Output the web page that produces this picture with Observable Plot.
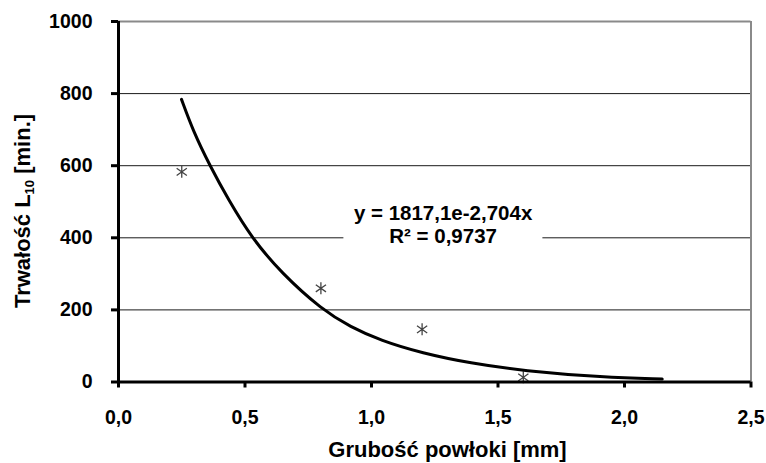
<!DOCTYPE html>
<html><head><meta charset="utf-8">
<script src="https://cdn.jsdelivr.net/npm/d3@7"></script>
<script src="https://cdn.jsdelivr.net/npm/@observablehq/plot@0.6"></script>
<style>body{margin:0;background:#fff} svg{display:block}</style>
</head><body><div id="chart"></div>
<script>
// measured points (asterisks)
const thickness = [0.25, 0.8, 1.2, 1.6];
const durability = [583, 260, 146, 13];
// trend line
const trendX = [0.249, 0.294, 0.361, 0.435, 0.526, 0.644, 0.805, 0.917, 1.036, 1.2, 1.391, 1.6, 1.917, 2.149];
const trendY = [784, 698, 600, 505, 400, 302, 200, 153, 115, 80, 52, 31, 13, 8];
// axes
const xTicks = [0, 0.5, 1, 1.5, 2, 2.5];
const xTickLabels = ["0,0", "0,5", "1,0", "1,5", "2,0", "2,5"];
const yTicks = [0, 200, 400, 600, 800, 1000];
const yTickLabels = ["0", "200", "400", "600", "800", "1000"];
const gridY = [200, 400, 600, 800];
const equationLines = ["y = 1817,1e-2,704x", "R² = 0,9737"];
const equationX = 1.283;
const equationY = 438;
const xTitle = "Grubość powłoki [mm]";
const yTitleParts = ["Trwałość L", "10", " [min.]"];

const font = "'Liberation Sans', Arial, sans-serif";
const points = thickness.map((x, i) => ({x, y: durability[i]}));
const trend = trendX.map((x, i) => ({x, y: trendY[i]}));
const xLab = new Map(xTicks.map((t, i) => [t, xTickLabels[i]]));
const yLab = new Map(yTicks.map((t, i) => [t, yTickLabels[i]]));

const asterisk = {
  draw(context, size) {
    const r = Math.sqrt(size / Math.PI);
    context.moveTo(0, -r); context.lineTo(0, r);
    context.moveTo(-r * 0.85, -r * 0.6); context.lineTo(r * 0.85, r * 0.6);
    context.moveTo(-r * 0.85, r * 0.6); context.lineTo(r * 0.85, -r * 0.6);
  }
};

const plot = Plot.plot({
  width: 766, height: 463,
  marginLeft: 118, marginRight: 15.5, marginTop: 21, marginBottom: 81.5,
  style: {fontFamily: font, fontSize: "19.5px", fontWeight: "bold", color: "black", background: "white", overflow: "visible"},
  x: {domain: [0, 2.5]},
  y: {domain: [0, 1000]},
  marks: [
    Plot.ruleY(gridY, {stroke: "#1a1a1a", strokeWidth: 1}),
    Plot.ruleY([1000], {stroke: "#8a8a8a", strokeWidth: 2}),
    Plot.ruleX([2.5], {stroke: "#8a8a8a", strokeWidth: 2}),
    Plot.axisY({ticks: yTicks, tickSize: 7, tickPadding: 19, strokeWidth: 3, label: null, tickFormat: d => yLab.get(d)}),
    Plot.axisX({ticks: xTicks, tickSize: 6, tickPadding: 22, strokeWidth: 3, label: null, tickFormat: d => xLab.get(d)}),
    Plot.dot(points, {x: "x", y: "y", symbol: asterisk, r: 6, stroke: "#444", strokeWidth: 1.3}),
    Plot.line(trend, {x: "x", y: "y", curve: "basis", stroke: "black", strokeWidth: 3}),
    Plot.ruleX([0], {stroke: "black", strokeWidth: 3}),
    Plot.ruleY([0], {stroke: "black", strokeWidth: 3}),
    Plot.text([{x: equationX, y: equationY, t: equationLines.join("\n")}], {x: "x", y: "y", text: "t", lineHeight: 1.15, fontSize: 20.5, textAnchor: "middle", lineAnchor: "middle", fill: "black", className: "eq"})
  ]
});
document.getElementById("chart").appendChild(plot);

// white label box behind the equation (sized from the rendered text)
const svg = d3.select(plot);
const eq = svg.select("g.eq");
const bb = eq.node().getBBox();
svg.insert("rect", "g.eq")
  .attr("x", bb.x - 10).attr("y", bb.y - 2)
  .attr("width", bb.width + 20).attr("height", bb.height + 4)
  .attr("fill", "white");

// axis titles
const yt = svg.append("text")
  .attr("transform", "translate(30,211) rotate(-90)")
  .attr("text-anchor", "middle")
  .style("font-family", font).style("font-size", "22px").style("font-weight", "bold");
yt.append("tspan").text(yTitleParts[0]);
yt.append("tspan").attr("dy", 4).style("font-size", "13px").text(yTitleParts[1]);
yt.append("tspan").attr("dy", -4).text(yTitleParts[2]);

svg.append("text")
  .attr("x", 447.5).attr("y", 457)
  .attr("text-anchor", "middle")
  .style("font-family", font).style("font-size", "22px").style("font-weight", "bold")
  .text(xTitle);
</script>
</body></html>
